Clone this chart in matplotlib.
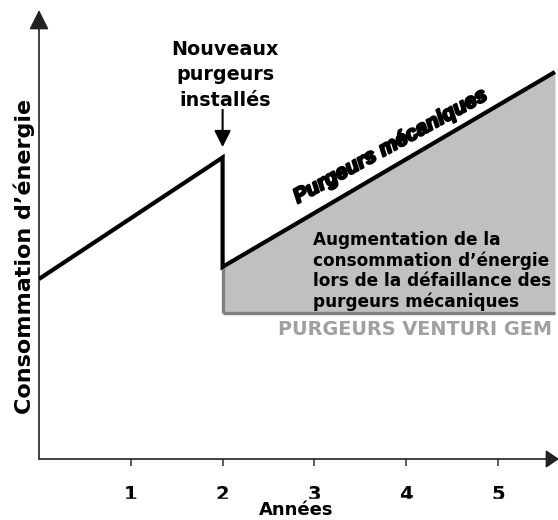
import matplotlib
matplotlib.use("Agg")
import matplotlib.pyplot as plt
from matplotlib.patches import Rectangle, ArrowStyle
from matplotlib import patheffects

# ---- data ----
years_line = [0, 2, 2, 5.62]
energy_line = [4.0, 6.7, 4.27, 8.6]
years_fill = [2, 5.62]
energy_fill = [4.27, 8.6]
venturi_level = 3.25
xticks = [1, 2, 3, 4, 5]
xtick_labels = ["1", "2", "3", "4", "5"]

W, H = 558, 520
fig = plt.figure(figsize=(W / 100, H / 100), dpi=100)
ax = fig.add_axes([39 / W, 61 / H, 519 / W, 449 / H])
ax.set_xlim(0, 519 / 91.8)
ax.set_ylim(0, 449 / 45)
for s in ax.spines.values():
    s.set_visible(False)
ax.set_yticks([])
ax.set_xticks(xticks)
ax.set_xticklabels(xtick_labels, fontsize=14, fontweight="bold", family="DejaVu Sans")
ax.tick_params(axis="x", direction="out", length=5, width=1.1, color="#333333", pad=14)

# axes with arrows
ax.annotate("", xy=(0, 1), xytext=(0, 0), xycoords="axes fraction",
            arrowprops=dict(arrowstyle=ArrowStyle("-|>", head_length=1.0, head_width=0.5),
                            mutation_scale=12, color="#222222", lw=1.2, shrinkA=0, shrinkB=0),
            annotation_clip=False)
ax.annotate("", xy=(1.002, 0), xytext=(0, 0), xycoords="axes fraction",
            arrowprops=dict(arrowstyle=ArrowStyle("-|>", head_length=1.0, head_width=0.68),
                            mutation_scale=8, color="#222222", lw=1.2, shrinkA=0, shrinkB=0),
            annotation_clip=False)

# gray area
ax.fill_between(years_fill, energy_fill, venturi_level, color="#c0c0c0", lw=0, zorder=1)
ax.plot([years_fill[0], years_fill[-1]], [venturi_level, venturi_level], color="#808080", lw=2.4,
        solid_capstyle="butt", zorder=2)
ax.plot([years_fill[0], years_fill[0]], [venturi_level, energy_fill[0]], color="#808080", lw=2.4,
        solid_capstyle="butt", zorder=2)

# main line
ax.plot(years_line, energy_line, color="black", lw=3, solid_joinstyle="miter",
        solid_capstyle="butt", zorder=3)

# annotation arrow
ax.annotate("", xy=(2, 6.93), xytext=(2, 7.76),
            arrowprops=dict(arrowstyle=ArrowStyle("-|>", head_length=1.0, head_width=0.5),
                            mutation_scale=10, color="black", lw=1.5, shrinkA=0, shrinkB=0))

ax.text(2.03, (459 - 40) / 45, "Nouveaux\npurgeurs\ninstallés", ha="center", va="top",
        fontsize=13.8, fontweight="bold", family="DejaVu Sans", linespacing=1.42)

ax.text(3.83, 6.95, "Purgeurs mécaniques", rotation=28.8, rotation_mode="anchor",
        ha="center", va="center", fontsize=15, fontweight="bold", style="italic",
        family="Liberation Sans",
        path_effects=[patheffects.withStroke(linewidth=1.6, foreground="black")])

ax.text(2.985, (459 - 231) / 45,
        "Augmentation de la\nconsommation d’énergie\nlors de la défaillance des\npurgeurs mécaniques",
        ha="left", va="top", fontsize=12.2, fontweight="bold", family="DejaVu Sans",
        linespacing=1.16, zorder=4)

ax.text(5.588, (459 - 335) / 45, "PURGEURS VENTURI GEM", ha="right", va="baseline",
        fontsize=13.9, fontweight="bold", color="#a0a0a0", family="DejaVu Sans")

fig.text(24 / W, 1 - 256 / H, "Consommation d’énergie", rotation=90, ha="center", va="center",
         fontsize=16, fontweight="bold", family="DejaVu Sans")

fig.add_artist(Rectangle((0, 0), 1, 21 / H, transform=fig.transFigure, color="white", zorder=5))
fig.text(296 / W, 1 / H, "Années", ha="center", va="bottom", fontsize=13,
         fontweight="bold", family="DejaVu Sans", zorder=6)

fig.savefig("out.png", dpi=100)
